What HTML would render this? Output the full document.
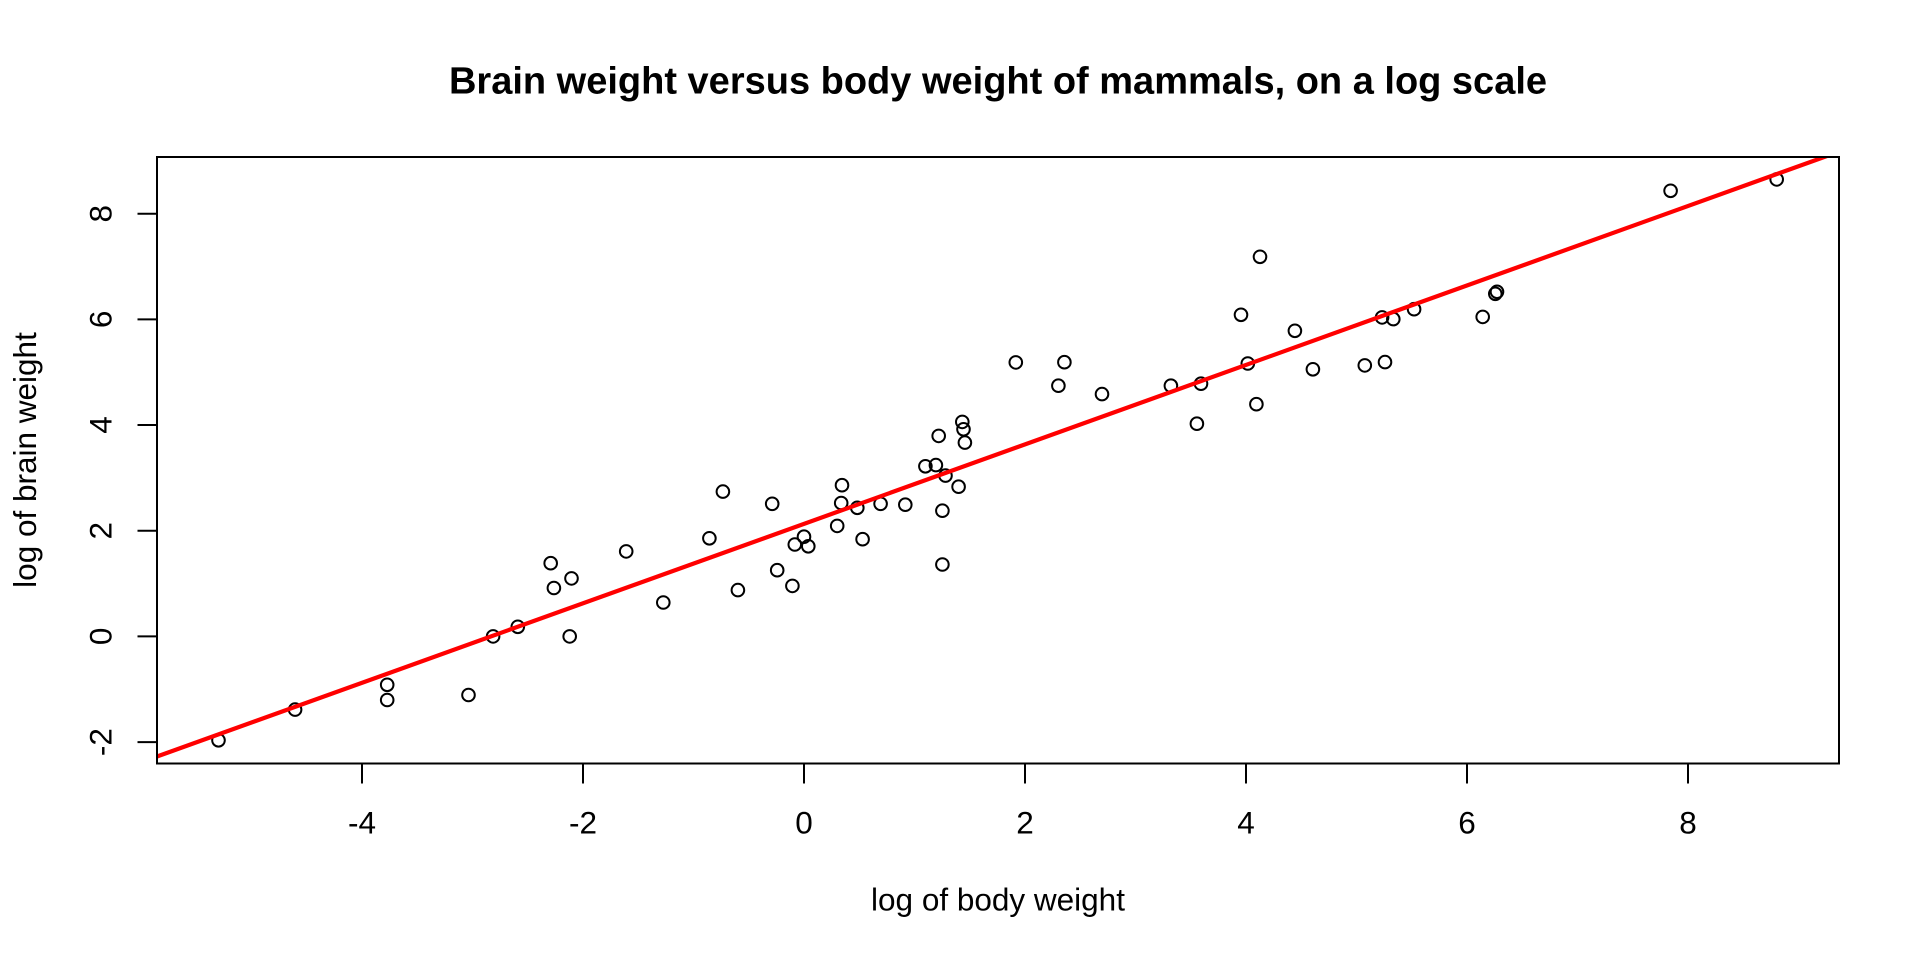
<!DOCTYPE html>
<html>
<head>
<meta charset="utf-8">
<style>
html,body{margin:0;padding:0;background:#fff;}
svg{display:block;}
text{font-family:"Liberation Sans",Arial,sans-serif;fill:#000;}
</style>
</head>
<body>
<svg width="1920" height="960" viewBox="0 0 1920 960" xmlns="http://www.w3.org/2000/svg">
<rect x="0" y="0" width="1920" height="960" fill="#fff"/>
<defs>
<clipPath id="pc"><rect x="157" y="157" width="1682" height="606.5"/></clipPath>
</defs>
<text x="998" y="93.3" font-size="38" font-weight="bold" text-anchor="middle">Brain weight versus body weight of mammals, on a log scale</text>
<text x="998" y="910.7" font-size="31.5" text-anchor="middle">log of body weight</text>
<text transform="translate(36,460) rotate(-90)" x="0" y="0" font-size="31.5" text-anchor="middle">log of brain weight</text>
<g fill="none" stroke="#000" stroke-width="2">
<circle cx="938.7" cy="435.9" r="6.3"/>
<circle cx="722.9" cy="491.6" r="6.3"/>
<circle cx="837.2" cy="525.9" r="6.3"/>
<circle cx="1482.7" cy="316.9" r="6.3"/>
<circle cx="1201.0" cy="383.7" r="6.3"/>
<circle cx="1170.9" cy="385.7" r="6.3"/>
<circle cx="1102.0" cy="394.1" r="6.3"/>
<circle cx="808.3" cy="546.3" r="6.3"/>
<circle cx="962.3" cy="421.9" r="6.3"/>
<circle cx="709.4" cy="538.3" r="6.3"/>
<circle cx="550.7" cy="563.2" r="6.3"/>
<circle cx="794.8" cy="544.5" r="6.3"/>
<circle cx="804.0" cy="536.7" r="6.3"/>
<circle cx="218.5" cy="740.3" r="6.3"/>
<circle cx="493.1" cy="636.4" r="6.3"/>
<circle cx="942.4" cy="510.7" r="6.3"/>
<circle cx="880.6" cy="503.8" r="6.3"/>
<circle cx="862.6" cy="539.2" r="6.3"/>
<circle cx="1670.6" cy="190.8" r="6.3"/>
<circle cx="387.2" cy="700.0" r="6.3"/>
<circle cx="1382.1" cy="317.4" r="6.3"/>
<circle cx="1495.3" cy="293.8" r="6.3"/>
<circle cx="777.2" cy="570.2" r="6.3"/>
<circle cx="1058.4" cy="385.7" r="6.3"/>
<circle cx="935.9" cy="465.1" r="6.3"/>
<circle cx="626.2" cy="551.4" r="6.3"/>
<circle cx="842.0" cy="485.2" r="6.3"/>
<circle cx="1497.0" cy="291.8" r="6.3"/>
<circle cx="1393.3" cy="319.1" r="6.3"/>
<circle cx="1294.9" cy="330.8" r="6.3"/>
<circle cx="772.2" cy="503.8" r="6.3"/>
<circle cx="1260.0" cy="256.8" r="6.3"/>
<circle cx="1776.7" cy="179.4" r="6.3"/>
<circle cx="942.4" cy="564.5" r="6.3"/>
<circle cx="1015.8" cy="362.4" r="6.3"/>
<circle cx="1196.9" cy="423.7" r="6.3"/>
<circle cx="958.6" cy="486.7" r="6.3"/>
<circle cx="569.7" cy="636.4" r="6.3"/>
<circle cx="387.2" cy="684.8" r="6.3"/>
<circle cx="295.1" cy="709.6" r="6.3"/>
<circle cx="841.2" cy="503.0" r="6.3"/>
<circle cx="1414.1" cy="309.2" r="6.3"/>
<circle cx="905.3" cy="504.7" r="6.3"/>
<circle cx="1247.8" cy="363.5" r="6.3"/>
<circle cx="1312.9" cy="369.3" r="6.3"/>
<circle cx="1241.0" cy="314.8" r="6.3"/>
<circle cx="1064.4" cy="362.2" r="6.3"/>
<circle cx="737.9" cy="590.1" r="6.3"/>
<circle cx="1256.4" cy="404.2" r="6.3"/>
<circle cx="945.5" cy="475.6" r="6.3"/>
<circle cx="964.9" cy="442.6" r="6.3"/>
<circle cx="663.3" cy="602.5" r="6.3"/>
<circle cx="517.8" cy="626.8" r="6.3"/>
<circle cx="571.5" cy="578.4" r="6.3"/>
<circle cx="468.5" cy="695.0" r="6.3"/>
<circle cx="1385.0" cy="362.1" r="6.3"/>
<circle cx="925.4" cy="466.3" r="6.3"/>
<circle cx="1364.8" cy="365.4" r="6.3"/>
<circle cx="792.4" cy="585.9" r="6.3"/>
<circle cx="857.3" cy="507.8" r="6.3"/>
<circle cx="553.9" cy="588.0" r="6.3"/>
<circle cx="963.5" cy="429.3" r="6.3"/>
</g>
<line x1="157" y1="756.5" x2="1839" y2="151.7" stroke="#ff0000" stroke-width="4.2" clip-path="url(#pc)"/>
<rect x="157" y="157" width="1682" height="606.5" fill="none" stroke="#000" stroke-width="2"/>
<g stroke="#000" stroke-width="2">
<line x1="362" y1="763.5" x2="362" y2="783.5"/>
<line x1="583" y1="763.5" x2="583" y2="783.5"/>
<line x1="804" y1="763.5" x2="804" y2="783.5"/>
<line x1="1025" y1="763.5" x2="1025" y2="783.5"/>
<line x1="1246" y1="763.5" x2="1246" y2="783.5"/>
<line x1="1467" y1="763.5" x2="1467" y2="783.5"/>
<line x1="1688" y1="763.5" x2="1688" y2="783.5"/>
</g>
<g font-size="31.5" text-anchor="middle">
<text x="362" y="833.5">-4</text>
<text x="583" y="833.5">-2</text>
<text x="804" y="833.5">0</text>
<text x="1025" y="833.5">2</text>
<text x="1246" y="833.5">4</text>
<text x="1467" y="833.5">6</text>
<text x="1688" y="833.5">8</text>
</g>
<g stroke="#000" stroke-width="2">
<line x1="137.5" y1="742.1" x2="157" y2="742.1"/>
<line x1="137.5" y1="636.4" x2="157" y2="636.4"/>
<line x1="137.5" y1="530.7" x2="157" y2="530.7"/>
<line x1="137.5" y1="425.0" x2="157" y2="425.0"/>
<line x1="137.5" y1="319.4" x2="157" y2="319.4"/>
<line x1="137.5" y1="213.7" x2="157" y2="213.7"/>
</g>
<g font-size="31.5" text-anchor="middle">
<text transform="translate(111.5,742.1) rotate(-90)">-2</text>
<text transform="translate(111.5,636.4) rotate(-90)">0</text>
<text transform="translate(111.5,530.7) rotate(-90)">2</text>
<text transform="translate(111.5,425.0) rotate(-90)">4</text>
<text transform="translate(111.5,319.4) rotate(-90)">6</text>
<text transform="translate(111.5,213.7) rotate(-90)">8</text>
</g>
</svg>
</body>
</html>
